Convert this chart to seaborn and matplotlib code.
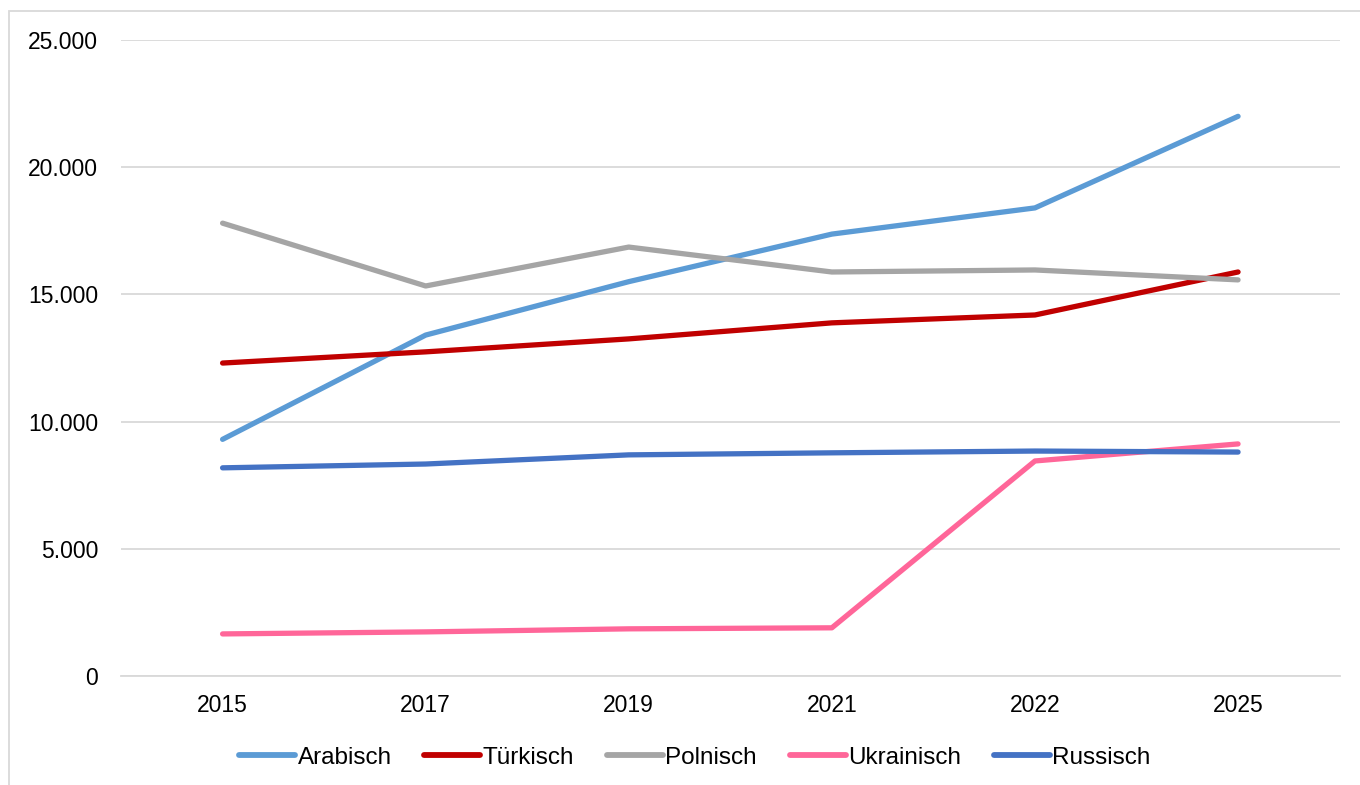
import pandas as pd
import matplotlib.pyplot as plt
import matplotlib.ticker as mticker
from matplotlib.patches import Rectangle
import seaborn as sns

# Data
years = ["2015", "2017", "2019", "2021", "2022", "2025"]
arabisch = [9300, 13400, 15500, 17370, 18400, 22000]
tuerkisch = [12300, 12740, 13250, 13880, 14190, 15880]
polnisch = [17800, 15330, 16860, 15880, 15960, 15570]
ukrainisch = [1650, 1730, 1850, 1890, 8450, 9120]
russisch = [8180, 8330, 8690, 8770, 8840, 8800]

languages = ["Arabisch", "Türkisch", "Polnisch", "Ukrainisch", "Russisch"]
colors = ["#5B9BD5", "#C00000", "#A5A5A5", "#FF6699", "#4472C4"]

series = dict(zip(languages, [arabisch, tuerkisch, polnisch, ukrainisch, russisch]))
rows = []
for lang, vals in series.items():
    for yr, v in zip(years, vals):
        rows.append({"Jahr": yr, "Anzahl": v, "Sprache": lang})
df = pd.DataFrame(rows)

sns.set_style("white")
plt.rcParams['font.family'] = ['Liberation Sans', 'DejaVu Sans']

fig = plt.figure(figsize=(13.6, 7.85), dpi=100)
ax = fig.add_axes([0.089, 0.139, 0.896, 0.810])

sns.lineplot(data=df, x="Jahr", y="Anzahl", hue="Sprache", hue_order=languages,
             palette=colors, linewidth=3.8, sort=False, ax=ax,
             solid_capstyle="round", solid_joinstyle="round")

ax.set_xlim(-0.5, 5.5)
ax.set_ylim(0, 25000)
ax.set_yticks(range(0, 25001, 5000))
ax.yaxis.set_major_formatter(mticker.FuncFormatter(lambda v, p: f"{int(v):,}".replace(",", ".")))
ax.grid(axis="y", color="#D9D9D9", linewidth=1.3)
ax.set_axisbelow(True)
for s in ["left", "right", "top"]:
    ax.spines[s].set_visible(False)
ax.spines["bottom"].set_color("#D9D9D9")
ax.spines["bottom"].set_linewidth(1.3)
ax.tick_params(axis="both", length=0, labelsize=16.5, colors="black")
ax.tick_params(axis="y", pad=16.5)
ax.tick_params(axis="x", pad=13)
ax.set_xlabel("")
ax.set_ylabel("")

handles, labels = ax.get_legend_handles_labels()
for h in handles:
    h.set_solid_capstyle("round")
    h.set_linewidth(4.2)
leg = ax.legend(handles, labels, loc="center", bbox_to_anchor=(0.471, -0.129),
                ncol=5, frameon=False, fontsize=17.5, handlelength=2.3,
                handletextpad=0.1, columnspacing=1.35, labelcolor="black")

# thin chart border like the source
fig.add_artist(Rectangle((0.0066, -0.05), 1.2, 1.036, transform=fig.transFigure,
                         fill=False, edgecolor="#D9D9D9", linewidth=1.3))

fig.savefig("out.png", dpi=100)
